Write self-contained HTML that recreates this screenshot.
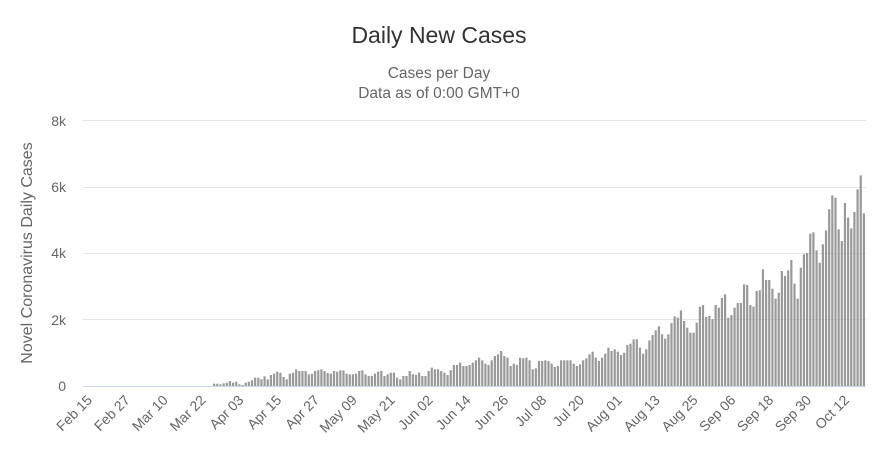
<!DOCTYPE html>
<html><head><meta charset="utf-8"><style>
body{margin:0;background:#fff;}
svg{display:block;font-family:"Liberation Sans",sans-serif;}
</style></head><body>
<svg id="c" width="878" height="456" xmlns="http://www.w3.org/2000/svg">
<rect width="878" height="456" fill="#fff"/>
<text x="439" y="43" text-anchor="middle" font-size="23" fill="#333">Daily New Cases</text>
<text x="439" y="78" text-anchor="middle" font-size="15.5" fill="#666">Cases per Day</text>
<text x="439" y="98" text-anchor="middle" font-size="15.5" fill="#666">Data as of 0:00 GMT+0</text>
<g stroke="#e6e6e6" stroke-width="1">
<line x1="83" x2="866" y1="120.5" y2="120.5"/>
<line x1="83" x2="866" y1="187.5" y2="187.5"/>
<line x1="83" x2="866" y1="253.5" y2="253.5"/>
<line x1="83" x2="866" y1="319.5" y2="319.5"/>
</g>
<g font-size="14" fill="#666" text-anchor="end">
<text x="66" y="126">8k</text>
<text x="66" y="192">6k</text>
<text x="66" y="258">4k</text>
<text x="66" y="325">2k</text>
<text x="66" y="391">0</text>
</g>
<text transform="translate(32,253) rotate(-90)" text-anchor="middle" font-size="16" fill="#666">Novel Coronavirus Daily Cases</text>
<g id="bars" fill="#999"></g>
<line x1="83" x2="866" y1="386.5" y2="386.5" stroke="#ccd6eb"/>
<g id="lbl" font-size="14" fill="#666" text-anchor="end"></g>
</svg>
<script>
var z3=[158,158,160,157,155,150,155,152,160,162,155,152,148,140,140,145,136,145,132,128,122,125,138,145,128,125,115,120,120,120,130,128,120,118,115,120,126,128,120,122,118,118,128,130,130,128,120,118,130,135,135,128,122,120,135,130,125,125,140];
var z4=[175,165,165,150,160,162,155,165,165,150,140,145,145,150,155,162,148,132,132,125,135,135,132,125,118,110,118,128,132,118,105,100,90,105,110,135,128,132,110,112,110,118,145,142,120,120,118,120,128,138,135,118,118,118,118,128,135,130,118,112,100,92,110];
var z1=[600,590,578,560,570,565,572,582,575,552,548,535,535,560,578,565,538,522,508,496,520,533,520,486,466,470,448,480,500,515,515,485,437,432,468,465,474,432,440,411,400,470,462,440,426,426,370,372,432,437,390,388,325,357,357,383,413,395,330,345,328,297,368,413,320,280,276,218,214,268,305,250,208,145,103,110,205,240,126,170,202,153,85,43,157];
var H={};
z3.forEach(function(t,i){H[40+i]=(165-t)/3;});
z4.forEach(function(t,i){H[99+i]=(195-t)/3;});
var s=246-z1.length+1;
z1.forEach(function(t,i){H[s+i]=(675-t)/3;});
var g=document.getElementById('bars'),out='';
for(var d=0;d<=246;d++){var h=H[d]||0;if(h<=0)continue;var x=88+3.154*d-1.1;
out+='<rect x="'+x.toFixed(2)+'" y="'+(386-h).toFixed(2)+'" width="2.2" height="'+h.toFixed(2)+'"/>';}
g.innerHTML=out;
var L=["Feb 15","Feb 27","Mar 10","Mar 22","Apr 03","Apr 15","Apr 27","May 09","May 21","Jun 02","Jun 14","Jun 26","Jul 08","Jul 20","Aug 01","Aug 13","Aug 25","Sep 06","Sep 18","Sep 30","Oct 12"];
var o='';L.forEach(function(t,i){var x=88+3.154*12*i+5;o+='<text transform="translate('+x.toFixed(1)+',401) rotate(-45)">'+t+'</text>';});
document.getElementById('lbl').innerHTML=o;
</script>
</body></html>
